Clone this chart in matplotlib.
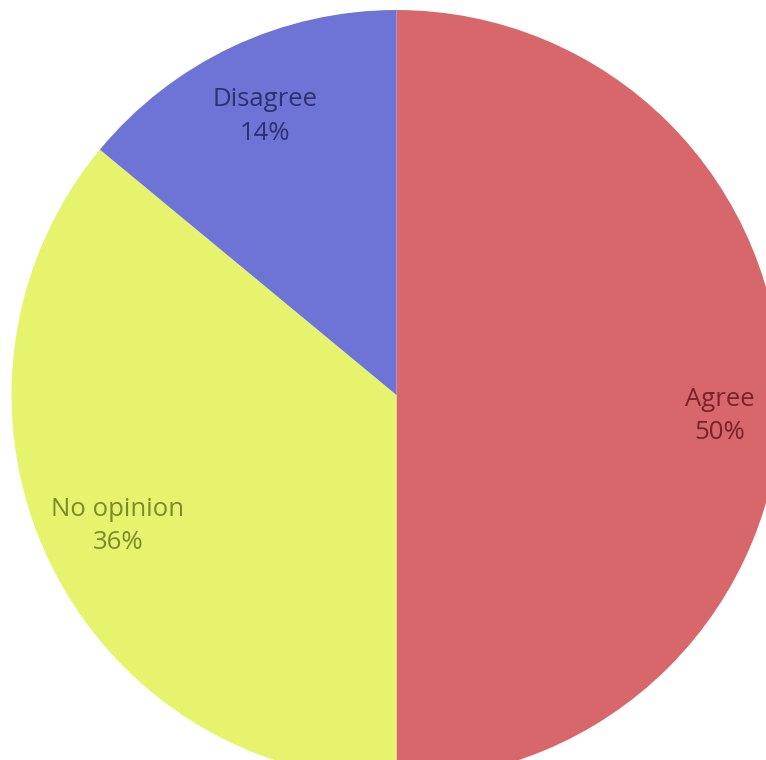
import matplotlib
matplotlib.use("Agg")
import matplotlib.pyplot as plt

categories = ["Agree", "No opinion", "Disagree"]
values = [50, 36, 14]
colors = ["#D8676B", "#E5F46C", "#6E74D6"]
text_colors = ["#7A2326", "#7C8A2C", "#2C3170"]

fig = plt.figure(figsize=(7.66, 7.6), dpi=100)
ax = fig.add_axes([0, 0, 1, 1])

labels = [f"{c}\n{v}%" for c, v in zip(categories, values)]
wedges, texts = ax.pie(values, colors=colors, startangle=90, counterclock=False,
                       labels=labels, labeldistance=0.80, radius=1.0,
                       wedgeprops=dict(linewidth=0),
                       textprops=dict(fontsize=18.5, family=["Open Sans", "DejaVu Sans"],
                                      ha="center", va="center", linespacing=1.45))
for t, c in zip(texts, text_colors):
    t.set_color(c)
    t.set_horizontalalignment("center")
texts[0].set_position((0.84, -0.055))

ax.set_aspect("auto")
ax.set_xlim(-1.03, 0.96)
ax.set_ylim(-0.948, 1.026)
ax.axis("off")
fig.savefig("out.png", dpi=100, facecolor="white")
